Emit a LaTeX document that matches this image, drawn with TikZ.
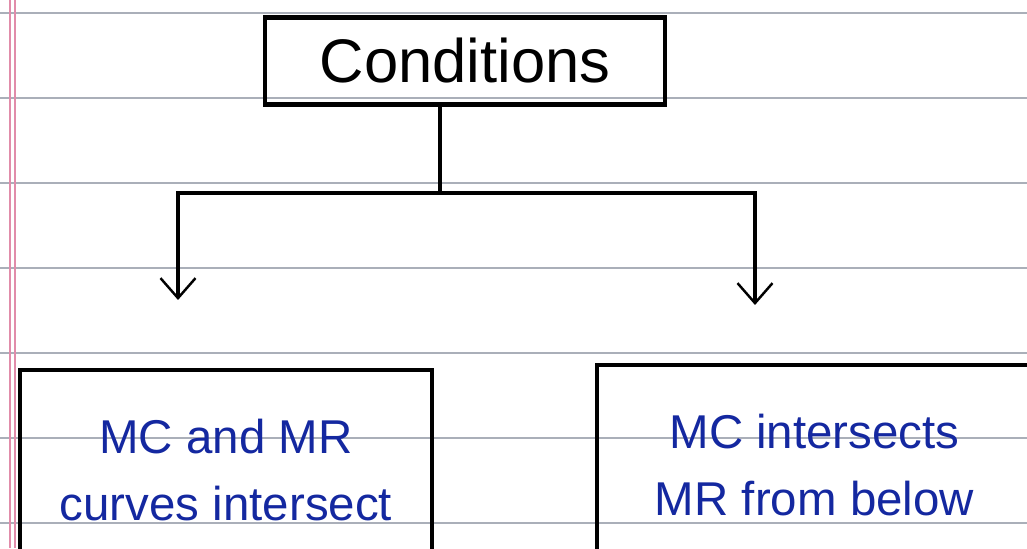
\documentclass[tikz,border=0pt]{standalone}
\usepackage{tikz}
\usetikzlibrary{arrows.meta}
\usepackage{fontspec}
\setsansfont{Liberation Sans}
\definecolor{ink}{RGB}{20,40,160}
\definecolor{rule}{RGB}{170,175,185}
\definecolor{margin}{RGB}{225,140,170}
\tikzstyle{cond box}=[
        draw = black,
        line width = 2.6pt,
        minimum width = 8cm,
        minimum height = 1.74cm,
        font = \sffamily\fontsize{35}{40}\selectfont
    ]
\tikzstyle{case box}=[
        draw = black,
        line width = 2.6pt,
        minimum height = 4cm,
        align = center,
        text = ink,
        font = \sffamily\fontsize{27}{38}\selectfont
    ]

\begin{document}
\begin{tikzpicture}[line width=2.6pt, tip/.style = {-{Straight Barb[length=4mm,width=7mm,line width=1.4pt]}}]
        \clip (0,0) rectangle (20.54,10.96);
        \fill[white] (0,0) rectangle (20.54,10.96);
        % ruled paper
        \foreach \y in {10.7,9.0,7.3,5.6,3.9,2.2,0.5}
            \draw[rule, line width=0.8pt] (0,\y) -- (20.54,\y);
        \draw[margin, line width=0.8pt] (0.2,0) -- (0.2,10.96);
        \draw[margin, line width=0.8pt] (0.3,0) -- (0.3,10.96);

        \node[cond box] (C) at (9.3,9.74) {Conditions};
        \node[case box, minimum width=8.24cm] (L) at (4.52,1.56) {MC and MR\\curves intersect};
        \node[case box, minimum width=8.7cm] (R) at (16.29,1.66) {MC intersects\\MR from below};

        \coordinate (hub) at (8.8,7.1);
        \coordinate (lend) at (3.56,4.96);
        \coordinate (rend) at (15.1,4.86);

        \draw (C.south -| hub) -- (hub);
        \draw[tip] (hub) -| (lend);
        \draw[tip] (hub) -| (rend);
    \end{tikzpicture}
\end{document}
